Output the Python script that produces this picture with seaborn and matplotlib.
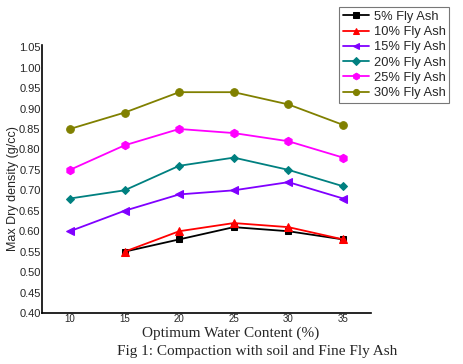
import pandas as pd
import matplotlib
matplotlib.use("Agg")
import matplotlib.pyplot as plt
import seaborn as sns

# Data
water = [10, 15, 20, 25, 30, 35]
fa5 = [None, 0.55, 0.58, 0.61, 0.60, 0.58]
fa10 = [None, 0.55, 0.60, 0.62, 0.61, 0.58]
fa15 = [0.60, 0.65, 0.69, 0.70, 0.72, 0.68]
fa20 = [0.68, 0.70, 0.76, 0.78, 0.75, 0.71]
fa25 = [0.75, 0.81, 0.85, 0.84, 0.82, 0.78]
fa30 = [0.85, 0.89, 0.94, 0.94, 0.91, 0.86]
labels = ["5% Fly Ash", "10% Fly Ash", "15% Fly Ash",
          "20% Fly Ash", "25% Fly Ash", "30% Fly Ash"]

colors = ["black", "red", "#8000ff", "#008080", "#ff00ff", "#808000"]
markers = ["s", "^", "<", "D", "h", "o"]
msizes = [5, 6, 6, 4.5, 6, 5.5]

sns.set_style("white")
plt.rcParams['font.family'] = ['Liberation Sans', 'DejaVu Sans']

rows = []
for lab, vals in zip(labels, [fa5, fa10, fa15, fa20, fa25, fa30]):
    for w, v in zip(water, vals):
        if v is not None:
            rows.append({"water": w, "density": v, "series": lab})
df = pd.DataFrame(rows)

fig = plt.figure(figsize=(4.64, 3.64), dpi=100)
ax = fig.add_axes([0.0905, 0.14, 0.709, 0.736])

for lab, c, m, ms in zip(labels, colors, markers, msizes):
    sub = df[df["series"] == lab]
    sns.lineplot(data=sub, x="water", y="density", ax=ax, color=c, marker=m,
                 markersize=ms, markeredgecolor=c, linewidth=1.3, label=lab)

ax.set_xlim(7.45, 37.55)
ax.set_ylim(0.40, 1.055)
ax.set_xticks(water)
ax.set_yticks([0.40 + 0.05 * i for i in range(14)])
ax.set_yticklabels([f"{0.40 + 0.05 * i:.2f}" for i in range(14)], fontsize=8)
ax.set_xticklabels([str(w) for w in water], fontsize=7)
ax.tick_params(axis="both", length=0, pad=1)

for s in ["top", "right"]:
    ax.spines[s].set_visible(False)
for s in ["left", "bottom"]:
    ax.spines[s].set_color("black")
    ax.spines[s].set_linewidth(1.2)

ax.set_xlabel("")
ax.set_ylabel("")
fig.text(0.028, 0.483, "Max Dry density (g/cc)", rotation=90, ha="center",
         va="center", fontsize=9)

handles, labs = ax.get_legend_handles_labels()
ax.get_legend().remove()
leg = fig.legend(handles, labs, loc="upper right", bbox_to_anchor=(0.974, 0.988),
                 fontsize=9.3, frameon=True, fancybox=False, handlelength=2.0,
                 handletextpad=0.35, labelspacing=0.25, borderpad=0.3,
                 borderaxespad=0.2, markerscale=0.8)
leg.get_frame().set_edgecolor("#555555")
leg.get_frame().set_linewidth(0.8)

fig.text(0.498, 0.085, "Optimum Water Content (%)", ha="center", va="center",
         fontsize=11, family="Liberation Serif")
fig.text(0.554, 0.033, "Fig 1: Compaction with soil and Fine Fly Ash", ha="center",
         va="center", fontsize=11, family="Liberation Serif")

fig.savefig("out.png", dpi=100)
